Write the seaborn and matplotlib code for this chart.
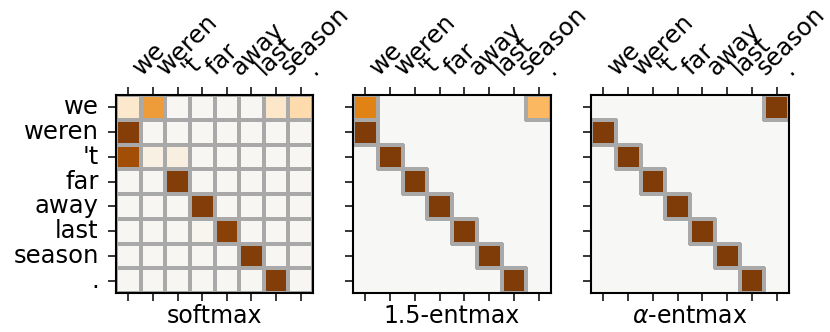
import numpy as np
import pandas as pd
import matplotlib
matplotlib.use("Agg")
import matplotlib.pyplot as plt
from matplotlib.colors import to_rgba
import seaborn as sns

tokens = ["we", "weren", "'t", "far", "away", "last", "season", "."]

softmax_vals = [
    [0.13, 0.50, 0.01, 0.01, 0.01, 0.01, 0.14, 0.22],
    [0.97, 0.01, 0.01, 0.01, 0.01, 0.01, 0.01, 0.01],
    [0.86, 0.06, 0.07, 0.01, 0.01, 0.01, 0.01, 0.01],
    [0.01, 0.01, 0.98, 0.01, 0.01, 0.01, 0.01, 0.01],
    [0.01, 0.01, 0.01, 0.98, 0.01, 0.01, 0.01, 0.01],
    [0.01, 0.01, 0.01, 0.03, 0.96, 0.01, 0.01, 0.01],
    [0.01, 0.01, 0.01, 0.01, 0.01, 0.98, 0.01, 0.01],
    [0.01, 0.01, 0.01, 0.01, 0.01, 0.01, 0.98, 0.01],
]

entmax15_vals = [
    [0.60, 0, 0, 0, 0, 0, 0, 0.40],
    [1.0, 0, 0, 0, 0, 0, 0, 0],
    [0, 1.0, 0, 0, 0, 0, 0, 0],
    [0, 0, 1.0, 0, 0, 0, 0, 0],
    [0, 0, 0, 1.0, 0, 0, 0, 0],
    [0, 0, 0, 0, 1.0, 0, 0, 0],
    [0, 0, 0, 0, 0, 1.0, 0, 0],
    [0, 0, 0, 0, 0, 0, 1.0, 0],
]

alpha_entmax_vals = [
    [0, 0, 0, 0, 0, 0, 0, 1.0],
    [1.0, 0, 0, 0, 0, 0, 0, 0],
    [0, 1.0, 0, 0, 0, 0, 0, 0],
    [0, 0, 1.0, 0, 0, 0, 0, 0],
    [0, 0, 0, 1.0, 0, 0, 0, 0],
    [0, 0, 0, 0, 1.0, 0, 0, 0],
    [0, 0, 0, 0, 0, 1.0, 0, 0],
    [0, 0, 0, 0, 0, 0, 1.0, 0],
]

panel_titles = ["softmax", "1.5-entmax", r"$\alpha$-entmax"]

sns.set_style("ticks")
plt.rcParams.update({
    "font.family": ["DejaVu Sans"],
    "font.size": 17,
    "axes.labelsize": 17,
    "xtick.labelsize": 17.5,
    "ytick.labelsize": 17.5,
    "text.color": "black",
    "axes.labelcolor": "black",
    "xtick.color": "black",
    "ytick.color": "black",
    "axes.edgecolor": "black",
    "xtick.major.size": 6,
    "ytick.major.size": 6,
    "xtick.major.width": 1.1,
    "ytick.major.width": 1.1,
    "xtick.major.pad": 5,
    "ytick.major.pad": 6.5,
    "axes.linewidth": 1.5,
    "mathtext.fontset": "dejavusans",
})

cmap = plt.get_cmap("PuOr_r")
W, H = 830, 332
fig = plt.figure(figsize=(W / 100, H / 100), dpi=100)
boxes = [(116, 95, 197, 198), (353, 95, 198, 198), (591, 95, 198, 198)]
edge_rgba = to_rgba("darkgrey")

for i, (vals, title, (x, y, w, h)) in enumerate(
        zip([softmax_vals, entmax15_vals, alpha_entmax_vals], panel_titles, boxes)):
    ax = fig.add_axes([x / W, 1 - (y + h) / H, w / W, h / H])
    ax.set_facecolor(cmap(0.5))
    df = pd.DataFrame(vals, index=tokens, columns=tokens)
    mask = df.values == 0
    sns.heatmap(df, ax=ax, cmap=cmap, vmin=-1, vmax=1, cbar=False,
                linewidths=1.5, linecolor="darkgrey", mask=mask,
                xticklabels=tokens, yticklabels=tokens)
    mesh = ax.collections[0]
    ec = np.array([(0, 0, 0, 0) if m else edge_rgba for m in mask.ravel()])
    mesh.set_edgecolor(ec)
    for s in ax.spines.values():
        s.set_visible(True)
        s.set_color("black")
        s.set_linewidth(1.5)
        s.set_zorder(5)
    ax.tick_params(axis="x", top=True, bottom=True, labeltop=True, labelbottom=False)
    plt.setp(ax.get_xticklabels(), rotation=45, ha="left")
    if i == 0:
        plt.setp(ax.get_yticklabels(), rotation=0)
    else:
        ax.tick_params(axis="y", labelleft=False)
    ax.set_xlabel(title, labelpad=2)
    ax.set_ylabel("")

fig.savefig("out.png", dpi=100)
